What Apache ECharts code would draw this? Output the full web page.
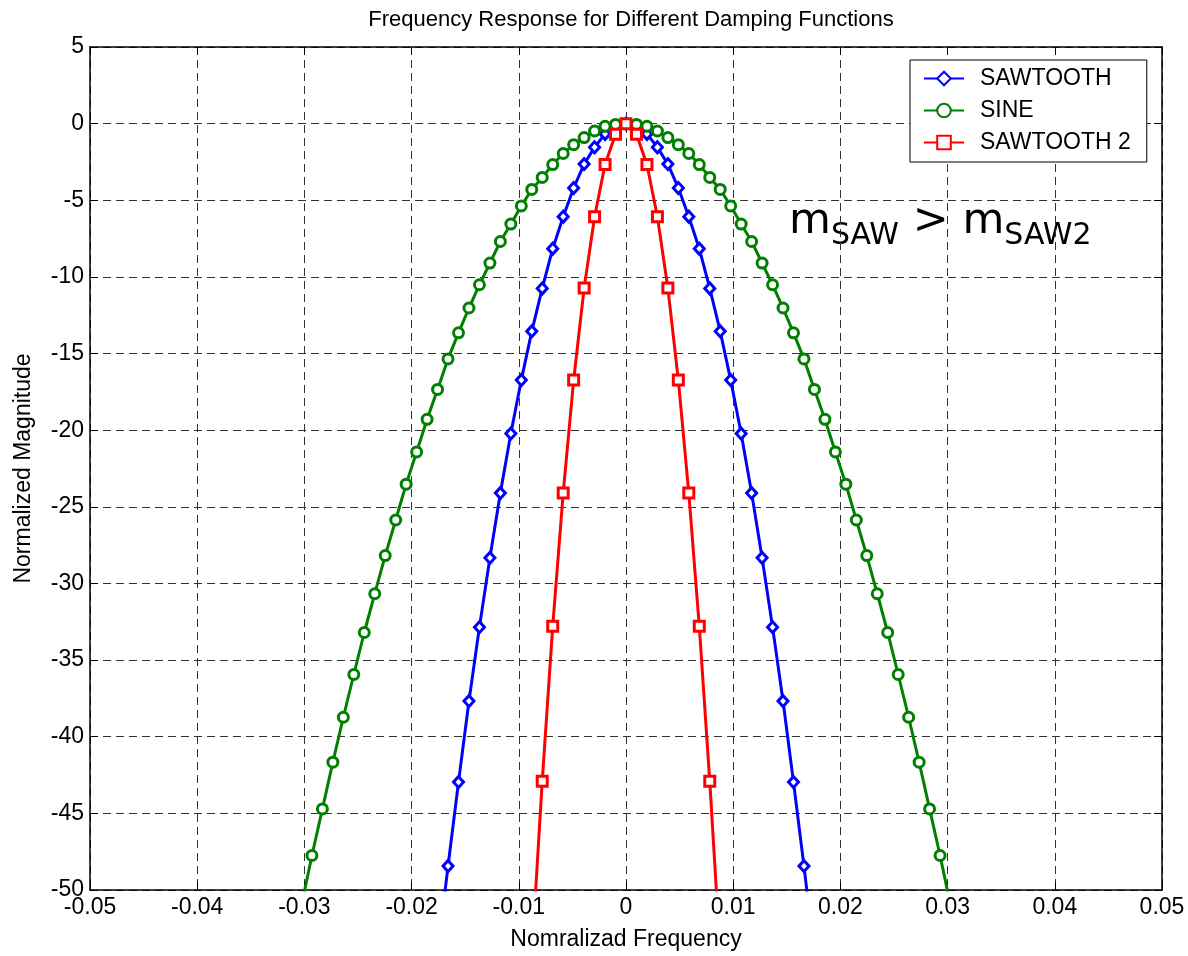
<!DOCTYPE html>
<html><head><meta charset="utf-8">
<script src="https://cdn.jsdelivr.net/npm/echarts@6/dist/echarts.min.js"></script>
<style>html,body{margin:0;padding:0;background:#fff}#chart{width:1188px;height:956px}</style>
</head><body><div id="chart"></div>
<script>
// Normalized frequency sample points (k/1024, k = -31..31)
const freq = [
  -0.030273, -0.029297, -0.028320, -0.027344, -0.026367, -0.025391, -0.024414, -0.023438,
  -0.022461, -0.021484, -0.020508, -0.019531, -0.018555, -0.017578, -0.016602, -0.015625,
  -0.014648, -0.013672, -0.012695, -0.011719, -0.010742, -0.009766, -0.008789, -0.007813,
  -0.006836, -0.005859, -0.004883, -0.003906, -0.002930, -0.001953, -0.000977, 0,
  0.000977, 0.001953, 0.002930, 0.003906, 0.004883, 0.005859, 0.006836, 0.007813,
  0.008789, 0.009766, 0.010742, 0.011719, 0.012695, 0.013672, 0.014648, 0.015625,
  0.016602, 0.017578, 0.018555, 0.019531, 0.020508, 0.021484, 0.022461, 0.023438,
  0.024414, 0.025391, 0.026367, 0.027344, 0.028320, 0.029297, 0.030273
];
// SINE magnitude (dB), k = -31..31
const sine = [
  -51.0, -47.75, -44.71, -41.66, -38.73, -35.94, -33.2, -30.67, -28.18, -25.86, -23.52,
  -21.42, -19.29, -17.34, -15.35, -13.65, -12.03, -10.51, -9.10, -7.69, -6.55, -5.37,
  -4.29, -3.51, -2.67, -1.95, -1.37, -0.91, -0.48, -0.17, -0.05, 0,
  -0.05, -0.17, -0.48, -0.91, -1.37, -1.95, -2.67, -3.51, -4.29, -5.37, -6.55,
  -7.69, -9.10, -10.51, -12.03, -13.65, -15.35, -17.34, -19.29, -21.42, -23.52,
  -25.86, -28.18, -30.67, -33.2, -35.94, -38.73, -41.66, -44.71, -47.75, -51.0
];
// SAWTOOTH magnitude (dB), k = -18..18
const sawtooth = [
  -54.2, -48.44, -42.96, -37.67, -32.85, -28.33, -24.10, -20.22, -16.73, -13.55,
  -10.75, -8.16, -6.07, -4.2, -2.64, -1.54, -0.67, -0.17, 0,
  -0.17, -0.67, -1.54, -2.64, -4.2, -6.07, -8.16, -10.75, -13.55, -16.73, -20.22,
  -24.10, -28.33, -32.85, -37.67, -42.96, -48.44, -54.2
];
// SAWTOOTH 2 magnitude (dB), k = -9..9
const sawtooth2 = [
  -54.2, -42.9, -32.8, -24.10, -16.73, -10.73, -6.07, -2.67, -0.69, 0,
  -0.69, -2.67, -6.07, -10.73, -16.73, -24.10, -32.8, -42.9, -54.2
];
const seriesNames = ['SAWTOOTH', 'SINE', 'SAWTOOTH 2'];
const titleText = 'Frequency Response for Different Damping Functions';
const xName = 'Nomralizad Frequency';
const yName = 'Normalized Magnitude';
// annotation "m_SAW > m_SAW2": [text, isSubscript]
const annotParts = [['m', false], ['SAW', true], [' > m', false], ['SAW2', true]];

const FONT = '"Liberation Sans", Arial, Helvetica, sans-serif';
const freqSaw = freq.slice(13, 50);
const freqSaw2 = freq.slice(22, 41);
const pair = (xs, ys) => xs.map((x, i) => [x, ys[i]]);

// build annotation graphic with measured widths
const ANN_FONT = '"DejaVu Sans"';
const BIG = 43, SUB = 30, BIG_BASE = 237, SUB_BASE = 247;
const mctx = document.createElement('canvas').getContext('2d');
function tw(t, size) { mctx.font = size + 'px ' + ANN_FONT; return mctx.measureText(t).width; }
let ax = 789;
const annotGraphics = annotParts.map(([t, sub]) => {
  const size = sub ? SUB : BIG;
  const base = sub ? SUB_BASE : BIG_BASE;
  const el = {
    type: 'text', x: ax, y: base - size / 2 - 0.346 * size, silent: true,
    style: {text: t, fontFamily: ANN_FONT, fontSize: size, lineHeight: size,
            fill: '#000', align: 'left', verticalAlign: 'top'}
  };
  ax += tw(t, size);
  return el;
});

const chart = echarts.init(document.getElementById('chart'), null, {renderer: 'canvas'});
const axisBox = {
  axisLine: {show: true, onZero: false, lineStyle: {color: '#000', width: 1.5}},
  axisTick: {show: true, inside: true, length: 8, lineStyle: {color: '#000', width: 1}},
};
const textBase = {fontFamily: FONT, fontSize: 23, color: '#000'};
function mkSeries(name, data, color, symbol, size) {
  return {
    name, type: 'line', data, xAxisIndex: 0, yAxisIndex: 0,
    symbol, symbolSize: size, showSymbol: true, clip: true,
    lineStyle: {color, width: 3},
    itemStyle: {color: '#fff', borderColor: color, borderWidth: 3},
    emphasis: {disabled: true}, animation: false
  };
}
chart.setOption({
  backgroundColor: '#fff',
  animation: false,
  title: {text: titleText, left: 626, top: 4, textAlign: 'center',
    textStyle: Object.assign({}, textBase, {fontWeight: 'normal', fontSize: 22})},
  graphic: annotGraphics,
  legend: {
    orient: 'vertical', left: 910, top: 60,
    padding: [7, 16, 8, 13],
    itemWidth: 40, itemHeight: 17, itemGap: 9,
    backgroundColor: '#fff', borderColor: '#000', borderWidth: 1,
    selectedMode: false,
    textStyle: Object.assign({}, textBase, {lineHeight: 20, padding: [0, 0, 0, 11]}),
    data: seriesNames
  },
  grid: {left: 90, right: 26, top: 47, bottom: 63, containLabel: false},
  xAxis: [
    Object.assign({
      type: 'value', position: 'bottom', min: -0.05, max: 0.05, interval: 0.01,
      axisLabel: Object.assign({}, textBase, {margin: 6, formatter: v => String(+v.toFixed(2))}),
      splitLine: {show: true, lineStyle: {color: '#333', width: 1, type: [8, 5]}},
      name: xName, nameLocation: 'middle', nameGap: 38, nameTextStyle: textBase
    }, axisBox),
    Object.assign({
      type: 'value', position: 'top', min: -0.05, max: 0.05, interval: 0.01,
      axisLabel: {show: false}, splitLine: {show: false}
    }, axisBox)
  ],
  yAxis: [
    Object.assign({
      type: 'value', position: 'left', min: -50, max: 5, interval: 5,
      axisLabel: Object.assign({}, textBase, {margin: 6}),
      splitLine: {show: true, lineStyle: {color: '#333', width: 1, type: [8, 5]}},
      name: yName, nameLocation: 'middle', nameGap: 55, nameTextStyle: textBase
    }, axisBox),
    Object.assign({
      type: 'value', position: 'right', min: -50, max: 5, interval: 5,
      axisLabel: {show: false}, splitLine: {show: false}
    }, axisBox)
  ],
  series: [
    mkSeries('SAWTOOTH', pair(freqSaw, sawtooth), '#0000ff', 'diamond', [10, 11]),
    mkSeries('SINE', pair(freq, sine), '#008000', 'circle', 10),
    mkSeries('SAWTOOTH 2', pair(freqSaw2, sawtooth2), '#ff0000', 'rect', 10)
  ]
});
</script></body></html>
